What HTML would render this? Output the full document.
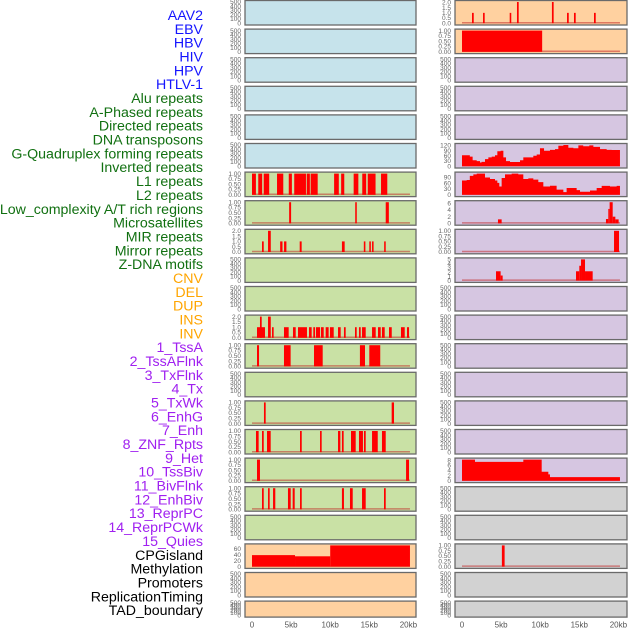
<!DOCTYPE html>
<html><head><meta charset="utf-8">
<style>
html,body{margin:0;padding:0;background:#fff;width:630px;height:630px;overflow:hidden}
svg{display:block}
</style></head>
<body>
<svg id="chart" width="630" height="630" xmlns="http://www.w3.org/2000/svg"></svg>
<script>
const trackLabels = ["AAV2","EBV","HBV","HIV","HPV","HTLV-1","Alu repeats","A-Phased repeats","Directed repeats","DNA transposons","G-Quadruplex forming repeats","Inverted repeats","L1 repeats","L2 repeats","Low_complexity A/T rich regions","Microsatellites","MIR repeats","Mirror repeats","Z-DNA motifs","CNV","DEL","DUP","INS","INV","1_TssA","2_TssAFlnk","3_TxFlnk","4_Tx","5_TxWk","6_EnhG","7_Enh","8_ZNF_Rpts","9_Het","10_TssBiv","11_BivFlnk","12_EnhBiv","13_ReprPC","14_ReprPCWk","15_Quies","CPGisland","Methylation","Promoters","ReplicationTiming","TAD_boundary"];
const labelGroups = [6,13,5,15,5];
const groupColors = ["#1414ff","#117011","#ffa500","#a020f0","#000000"];
const xTicks = [0,5,10,15,20];
const xTickLabels = ["0","5kb","10kb","15kb","20kb"];
const leftBg = ["b","b","b","b","b","b","g","g","g","g","g","g","g","g","g","g","g","g","g","p","p","p"];
const rightBg = ["p","p","v","v","v","v","v","v","v","v","v","v","v","v","v","v","v","k","k","k","k","k"];
const bgColors = {b:"#c6e3eb",g:"#c9e1a5",p:"#ffd1a0",v:"#d6c6e1",k:"#d2d2d2"};
const ticks01 = ["0.00","0.25","0.50","0.75","1.00"];
const ticks02 = ["0.0","0.5","1.0","1.5","2.0"];
const ticksEmpty = ["0","100","200","300","400","500"];
// bar data: [startKb, endKb, height]
const left6Bars = [[0,0.5,1],[0.8,1.3,1],[1.5,2.2,1],[3.2,4.0,1],[4.7,5.1,1],[5.4,6.9,1],[7.0,7.4,1],[7.5,8.4,1],[10.5,11.1,1],[11.4,11.8,1],[13.0,13.6,1],[14.1,14.6,1],[14.8,15.8,1],[16.5,17.3,1]];
const left7Bars = [[4.75,5.0,1],[13.2,13.4,1],[17.1,17.5,1]];
const left8Bars = [[1.28,1.5,1],[2.05,2.4,2],[3.6,3.9,1],[4.1,4.4,1],[6.1,6.35,1],[11.5,11.85,1],[14.3,14.5,1],[15.0,15.2,1],[15.35,15.55,1],[16.9,17.1,1]];
const left11Bars = [[0.64,1.66,1],[1.02,1.24,2],[2.05,2.4,2],[2.56,2.77,1],[4.09,4.69,1],[5.24,5.59,1],[5.88,7.03,1],[7.29,7.63,1],[7.84,8.06,1],[8.18,8.7,1],[8.82,9.17,1],[9.42,9.8,1],[9.97,10.45,1],[11.0,11.34,1],[11.76,11.98,1],[13.17,13.39,1],[13.68,13.9,1],[14.07,14.54,1],[15.35,15.82,1],[16.11,16.46,1],[16.62,16.97,1],[17.52,17.87,1],[19.05,19.53,1],[19.82,20.08,1]];
const left12Bars = [[0.64,0.9,1],[4.09,4.94,1],[7.93,9.04,1],[13.8,14.45,1],[15.0,16.4,1]];
const left14Bars = [[1.53,1.75,1],[17.86,18.16,1]];
const left15Bars = [[0.51,0.85,1],[1.28,1.5,1],[1.92,2.39,1],[6.14,6.36,1],[8.7,8.91,1],[11.0,11.3,1],[11.5,11.72,1],[12.66,13.26,1],[13.68,14.19,1],[14.32,14.54,1],[15.35,16.08,1],[16.62,17.1,1]];
const left16Bars = [[0.64,1.02,1],[19.7,20.08,1]];
const left17Bars = [[1.28,1.5,1],[2.05,2.26,1],[2.69,2.98,1],[4.6,4.95,1],[5.2,5.46,1],[6.14,6.36,1],[11.5,11.76,1],[12.53,12.88,1],[14.07,14.54,1],[16.88,17.1,1]];
const left19Bars = [[0,5.5,39],[5.5,10,35],[10,20.2,74]];
const right0Bars = [[1.28,1.5,1],[2.69,2.9,1],[6.1,6.3,1],[7.03,7.25,2.2],[11.5,11.72,2.2],[13.43,13.65,1],[14.32,14.54,1],[16.88,17.1,1]];
const right1Bars = [[0,10.25,1]];
const right5X = [0,0.6,1.0,1.36,1.88,2.3,2.5,2.94,3.37,3.8,4.22,4.52,4.94,5.29,5.63,6.14,7.0,7.42,7.84,9.12,9.55,9.97,10.49,11.25,11.89,12.32,12.96,13.6,14.24,14.88,15.5,16.28,16.8,17.65,18.5,19.14,20.2];
const right5Y = [63,63,55,34,29,21,25,41,51,55,63,86,89,51,29,24,24,34,51,60,67,103,89,94,98,118,123,106,103,120,115,120,111,98,94,93];
const right6X = [0,0.6,1.0,1.45,1.88,2.52,2.94,3.58,4.22,4.52,4.77,5.07,5.5,6.35,7.2,7.84,8.48,9.12,9.76,10.4,11.25,12.1,12.96,13.38,14.66,15.09,16.37,17.22,17.86,18.92,19.78,20.2];
const right6Y = [74,77,98,106,110,110,90,82,74,62,43,87,106,110,106,82,85,79,66,43,47,27,14,35,24,16,22,35,46,43,46];
const right7Bars = [[4.6,5.07,1.2],[18.41,18.71,1.3],[18.71,18.88,4.3],[18.88,19.27,6.3],[19.27,19.61,2],[19.61,20.03,1.2]];
const right8Bars = [[19.44,20.08,1]];
const right9Bars = [[4.35,4.94,2.2],[4.94,5.2,1.2],[14.58,15.0,2.2],[15.0,15.22,3.5],[15.22,15.73,5],[15.73,16.71,2.2]];
const right16X = [0,1.66,7.84,10.19,11.04,11.25,20.2];
const right16Y = [8.2,7.3,8.2,3.5,2.5,1.4];
const right19Bars = [[5.1,5.45,1]];

const panels = {
 "L6":{ymax:1,ticks:ticks01,bars:left6Bars},"L7":{ymax:1,ticks:ticks01,bars:left7Bars},
 "L8":{ymax:2,ticks:ticks02,bars:left8Bars},"L11":{ymax:2,ticks:ticks02,bars:left11Bars},
 "L12":{ymax:1,ticks:ticks01,bars:left12Bars},"L14":{ymax:1,ticks:ticks01,bars:left14Bars},
 "L15":{ymax:1,ticks:ticks01,bars:left15Bars},"L16":{ymax:1,ticks:ticks01,bars:left16Bars},
 "L17":{ymax:1,ticks:ticks01,bars:left17Bars},"L19":{ymax:72,ticks:["0","20","40","60"],bars:left19Bars},
 "R0":{ymax:2.05,ticks:ticks02,bars:right0Bars},"R1":{ymax:1,ticks:ticks01,bars:right1Bars},
 "R5":{ymax:122,ticks:["0","30","60","90","120"],stepX:right5X,stepY:right5Y},
 "R6":{ymax:110,ticks:["0","30","60","90"],tickVals:[0,30,60,90],stepX:right6X,stepY:right6Y},
 "R7":{ymax:6.3,ticks:["0","2","4","6"],tickVals:[0,2,4,6],bars:right7Bars},
 "R8":{ymax:1,ticks:ticks01,bars:right8Bars},
 "R9":{ymax:5,ticks:["0","1","2","3","4","5"],bars:right9Bars},
 "R16":{ymax:8.2,ticks:["0","2","4","6","8"],tickVals:[0,2,4,6,8],stepX:right16X,stepY:right16Y},
 "R19":{ymax:1,ticks:ticks01,bars:right19Bars}
};

const NS="http://www.w3.org/2000/svg";
const svg=document.getElementById('chart');
function mk(tag,attrs,parent){const e=document.createElementNS(NS,tag);for(const k in attrs)e.setAttribute(k,attrs[k]);(parent||svg).appendChild(e);return e;}

let li=0;
const labelG=mk('g',{});


labelGroups.forEach((n,gi)=>{for(let k=0;k<n;k++){
  const t=mk('text',{x:203,y:20+li*13.84,'text-anchor':'end','font-size':'14.2','font-family':'Liberation Sans, sans-serif',fill:groupColors[gi]},labelG);
  t.textContent=trackLabels[li];
  
  
  li++;}});

const cols=[{x:245,w:171,x0:252,bg:leftBg,key:"L",tx:241},{x:455,w:172,x0:462,bg:rightBg,key:"R",tx:451}];
const kbPx=7.82;
cols.forEach(c=>{
  const xs=kb=>c.x0+kb*kbPx;
  for(let r=0;r<22;r++){
    const top=r*28.6+0.5, h=(r===21)?16:24.5;
    const g=mk('g',{});
    
    
    mk('rect',{x:c.x,y:top,width:c.w,height:h,fill:bgColors[c.bg[r]],stroke:'#6a6a6a','stroke-width':1.3},g);
    const p=panels[c.key+r];
    const pt=top+1.5, pb=top+h-1.8;
    const ymax=p?p.ymax:500;
    const ys=v=>pb-Math.min(v,ymax)/ymax*(pb-pt);
    const tl=p?p.ticks:ticksEmpty;
    const tv=p?(p.tickVals||tl.map(Number)):[0,100,200,300,400,500];
    tl.forEach((lab,i)=>{
      const t=mk('text',{x:c.tx,y:ys(tv[i])+2.2,'text-anchor':'end','font-size':'6.5','font-family':'Liberation Sans, sans-serif',fill:'#666'},g);
      t.textContent=lab;
      
      
    });
    if(!p) continue;
    mk('line',{x1:xs(0),x2:xs(20.2),y1:pb-0.5,y2:pb-0.5,stroke:'#c02020','stroke-opacity':0.5,'stroke-width':1.5},g);
    if(p.bars){p.bars.forEach(b=>{
      const y=ys(b[2]);
      const rc=mk('rect',{x:xs(b[0]),y:y,width:Math.max(1.2,xs(b[1])-xs(b[0])),height:pb-y,fill:'#ff0000'},g);
      
      
    });}
    if(p.stepX){
      let d='M'+xs(p.stepX[0])+','+pb;
      for(let i=0;i<p.stepY.length;i++){d+=' L'+xs(p.stepX[i])+','+ys(p.stepY[i])+' L'+xs(p.stepX[i+1])+','+ys(p.stepY[i]);}
      d+=' L'+xs(p.stepX[p.stepX.length-1])+','+pb+' Z';
      const pa=mk('path',{d:d,fill:'#ff0000'},g);
      
      
    }
  }
  xTicks.forEach((v,i)=>{
    const t=mk('text',{x:xs(v),y:627.5,'text-anchor':'middle','font-size':'8','font-family':'Liberation Sans, sans-serif',fill:'#555'});
    t.textContent=xTickLabels[i];
    
    
  });
});
</script>
</body></html>
